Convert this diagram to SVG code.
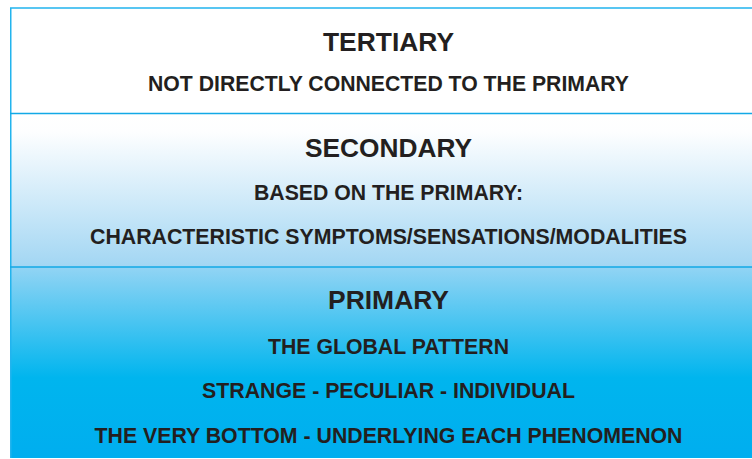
<svg xmlns="http://www.w3.org/2000/svg" width="752" height="459" viewBox="0 0 752 459">
  <style>
    .title { font-family: "Liberation Sans", Arial, sans-serif; font-weight: bold; font-size: 26.6px; fill: #231f20; text-anchor: middle; }
    .sub { font-family: "Liberation Sans", Arial, sans-serif; font-weight: bold; font-size: 21.2px; fill: #231f20; text-anchor: middle; }
    .border { stroke: #22b4ee; stroke-width: 1.5; fill: none; }
    .divider { stroke: #12a9e6; stroke-width: 1.5; }
  </style>
  <defs>
    <linearGradient id="gSec" gradientUnits="userSpaceOnUse" x1="0" y1="114" x2="0" y2="267">
      <stop offset="0" stop-color="#ffffff"/>
      <stop offset="0.12" stop-color="#fdfeff"/>
      <stop offset="1" stop-color="#a2d6f3"/>
    </linearGradient>
    <linearGradient id="gPri" gradientUnits="userSpaceOnUse" x1="0" y1="267" x2="0" y2="458">
      <stop offset="0" stop-color="#92d4f4"/>
      <stop offset="0.58" stop-color="#00b5ee"/>
      <stop offset="1" stop-color="#00aeef"/>
    </linearGradient>
  </defs>
  <rect x="0" y="0" width="752" height="459" fill="#ffffff"/>
  <g id="tertiary">
    <rect x="10.5" y="8" width="760" height="105.5" fill="#ffffff"/>
    <text class="title" x="388.5" y="51" textLength="131" lengthAdjust="spacingAndGlyphs">TERTIARY</text>
    <text class="sub" x="388.5" y="91" textLength="481" lengthAdjust="spacingAndGlyphs">NOT DIRECTLY CONNECTED TO THE PRIMARY</text>
  </g>
  <g id="secondary">
    <rect x="10.5" y="113.5" width="760" height="153.5" fill="url(#gSec)"/>
    <text class="title" x="388.5" y="157" textLength="167" lengthAdjust="spacingAndGlyphs">SECONDARY</text>
    <text class="sub" x="388.5" y="200" textLength="269" lengthAdjust="spacingAndGlyphs">BASED ON THE PRIMARY:</text>
    <text class="sub" x="388.5" y="244" textLength="597" lengthAdjust="spacingAndGlyphs">CHARACTERISTIC SYMPTOMS/SENSATIONS/MODALITIES</text>
  </g>
  <g id="primary">
    <rect x="10" y="267" width="760" height="191" fill="url(#gPri)"/>
    <text class="title" x="388.5" y="309" textLength="121" lengthAdjust="spacingAndGlyphs">PRIMARY</text>
    <text class="sub" x="388.5" y="354" textLength="241" lengthAdjust="spacingAndGlyphs">THE GLOBAL PATTERN</text>
    <text class="sub" x="388.5" y="398" textLength="373" lengthAdjust="spacingAndGlyphs">STRANGE - PECULIAR - INDIVIDUAL</text>
    <text class="sub" x="388.5" y="443" textLength="588" lengthAdjust="spacingAndGlyphs">THE VERY BOTTOM - UNDERLYING EACH PHENOMENON</text>
  </g>
  <g id="connectors">
    <path class="border" d="M 770 8 H 10.75 V 458"/>
    <line class="divider" x1="10" y1="113.5" x2="770" y2="113.5"/>
    <line class="divider" x1="10" y1="267" x2="770" y2="267"/>
  </g>
</svg>
